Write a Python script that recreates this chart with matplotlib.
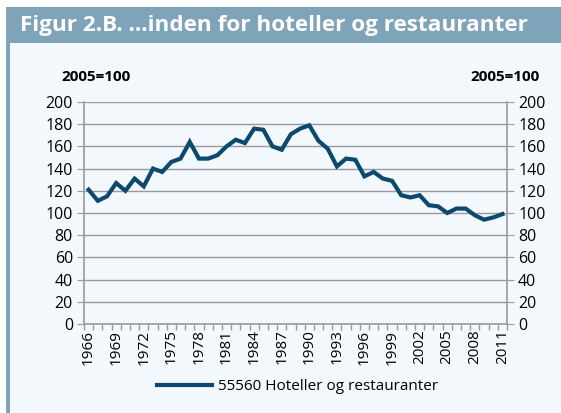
import matplotlib.pyplot as plt
from matplotlib.patches import Rectangle

years = list(range(1966, 2012))
values = [121, 111, 115, 127, 120, 131, 124, 140, 137, 146,
          149, 164, 149, 149, 152, 160, 166, 163, 176, 175,
          160, 157, 171, 176, 179, 165, 158, 142, 149, 148,
          133, 137, 131, 129, 116, 114, 116, 107, 106, 100,
          104, 104, 98, 94, 96, 99]
series_name = '55560 Hoteller og restauranter'
title = 'Figur 2.B. ...inden for hoteller og restauranter'

plt.rcParams['font.family'] = ['Open Sans', 'DejaVu Sans']

header_col = '#7fa3b8'
body_col = '#f3f8fd'
line_col = '#0b4a6e'
grid_col = '#9a9a9a'

fig = plt.figure(figsize=(5.61, 4.13), dpi=100)
fig.patch.set_facecolor('white')

# panel background, header bar and left border
fig.patches.append(Rectangle((6 / 561, 0), 1, 1 - 7 / 413, transform=fig.transFigure,
                             facecolor=body_col, edgecolor='none', zorder=-3))
fig.patches.append(Rectangle((6 / 561, 0), 4 / 561, 1 - 7 / 413, transform=fig.transFigure,
                             facecolor=header_col, edgecolor='none', zorder=-2))
fig.patches.append(Rectangle((6 / 561, 1 - 43 / 413), 1, 36 / 413, transform=fig.transFigure,
                             facecolor=header_col, edgecolor='none', zorder=-2))
fig.text(20 / 561, 1 - 26 / 413, title, color='white', fontsize=16.2, fontweight='bold',
         va='center', ha='left')

ax = fig.add_axes([84 / 561, 1 - 324 / 413, 423 / 561, 222 / 413])
ax.set_facecolor(body_col)
x = list(range(len(years)))
line, = ax.plot(x, values, color=line_col, linewidth=3, solid_joinstyle='miter',
                label=series_name)

ax.set_xlim(-0.5, len(years) - 0.5)
ax.set_ylim(0, 200)
ax.set_yticks(range(0, 201, 20))
ax.grid(axis='y', color=grid_col, linewidth=1)
ax.set_axisbelow(True)

ax.set_xticks([i for i in x if (years[i] - 1966) % 3 == 0])
ax.set_xticklabels([str(years[i]) for i in x if (years[i] - 1966) % 3 == 0],
                   rotation=90, fontsize=11)
ax.set_xticks([i - 0.5 for i in range(len(years) + 1)], minor=True)
ax.tick_params(axis='x', which='major', length=0, pad=4)
ax.tick_params(axis='x', which='minor', length=4, color=grid_col, width=1)

for s in ['left', 'right', 'bottom']:
    ax.spines[s].set_color(grid_col)
    ax.spines[s].set_linewidth(1.2)
ax.spines['top'].set_visible(False)

ax.tick_params(axis='y', which='major', length=5, color=grid_col, labelsize=11.5,
               left=True, right=True, labelleft=True, labelright=True, pad=3)

fig.text(96 / 561, 1 - 77 / 413, '2005=100', fontsize=11, fontweight='bold',
         ha='center', va='center')
fig.text(505 / 561, 1 - 77 / 413, '2005=100', fontsize=11, fontweight='bold',
         ha='center', va='center')

fig.legend(handles=[line], loc='center', bbox_to_anchor=(298 / 561, 1 - 387 / 413),
           frameon=False, fontsize=11, handlelength=3.6, handletextpad=0.4)

fig.savefig('out.png', dpi=100, facecolor=fig.get_facecolor())
